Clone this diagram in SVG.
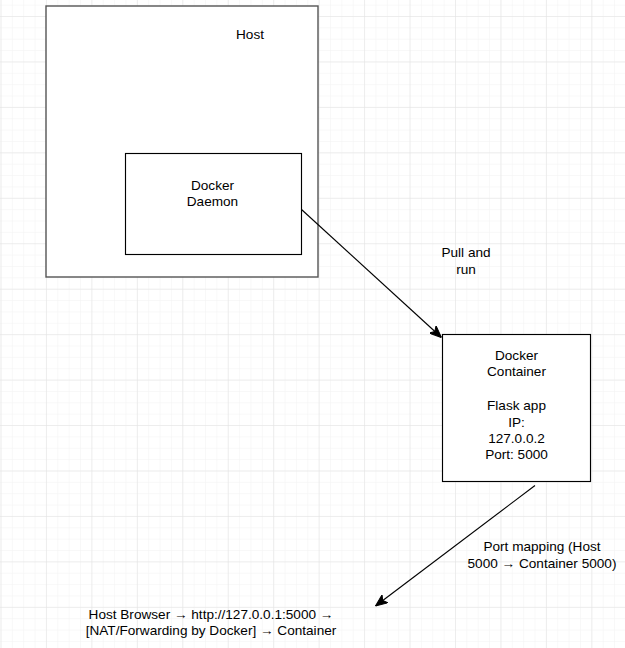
<svg xmlns="http://www.w3.org/2000/svg" width="625" height="648" viewBox="0 0 625 648">
<style>
.box{fill:#fff;stroke:#000;stroke-width:1.14}
.t{font-family:"Liberation Sans",Arial,sans-serif;font-size:13.6px;fill:#000;text-anchor:middle}
.edge{fill:none;stroke:#000;stroke-width:1.14}
</style>
<defs>
<pattern id="minor" patternUnits="userSpaceOnUse" x="0.5" y="16" width="11.3625" height="11.3625">
<path d="M0,0 H11.3625 M0,0 V11.3625" fill="none" stroke="#f2f2f2" stroke-width="1"/>
</pattern>
<pattern id="major" patternUnits="userSpaceOnUse" x="0.5" y="16" width="45.45" height="45.45">
<path d="M0,0 H45.45 M0,0 V45.45" fill="none" stroke="#e2e2e2" stroke-width="1"/>
</pattern>
<marker id="arr" markerUnits="userSpaceOnUse" viewBox="0 0 12 10" refX="12" refY="5" markerWidth="12" markerHeight="10" orient="auto">
<path d="M0,0 L12,5 L0,10 L3,5 Z" fill="#000" stroke="#000" stroke-width="1"/>
</marker>
</defs>
<rect width="625" height="648" fill="#fff"/>
<rect width="625" height="648" fill="url(#minor)"/>
<rect width="625" height="648" fill="url(#major)"/>
<g id="host">
<rect class="box" x="46" y="6" width="272" height="271" style="stroke:#555;stroke-width:1.4"/>
<text class="t" x="250" y="39">Host</text>
</g>
<g id="daemon">
<rect class="box" x="125.5" y="153.5" width="176" height="101"/>
<text class="t" x="212.5" y="189.5">Docker</text>
<text class="t" x="212.5" y="206">Daemon</text>
</g>
<g id="container">
<rect class="box" x="442.5" y="334.5" width="148" height="147"/>
<text class="t" x="516.5" y="359.5">Docker</text>
<text class="t" x="516.5" y="376">Container</text>
<text class="t" x="516.5" y="410">Flask app</text>
<text class="t" x="516.5" y="426.5">IP:</text>
<text class="t" x="516.5" y="443">127.0.0.2</text>
<text class="t" x="516.5" y="458.5">Port: 5000</text>
</g>
<g id="connectors">
<path class="edge" d="M301.5,209.5 L441.5,337.5" marker-end="url(#arr)"/>
<path class="edge" d="M535,485.5 L375.5,606" marker-end="url(#arr)"/>
<g id="label-pull">
<text class="t" x="466" y="257">Pull and</text>
<text class="t" x="466" y="274">run</text>
</g>
<g id="label-port">
<text class="t" x="542" y="551">Port mapping (Host</text>
<text class="t" x="542" y="567.5">5000 → Container 5000)</text>
</g>
</g>
<g id="browser">
<text class="t" x="211" y="618.5">Host Browser → http://127.0.0.1:5000 →</text>
<text class="t" x="211" y="635">[NAT/Forwarding by Docker] → Container</text>
</g>
</svg>
